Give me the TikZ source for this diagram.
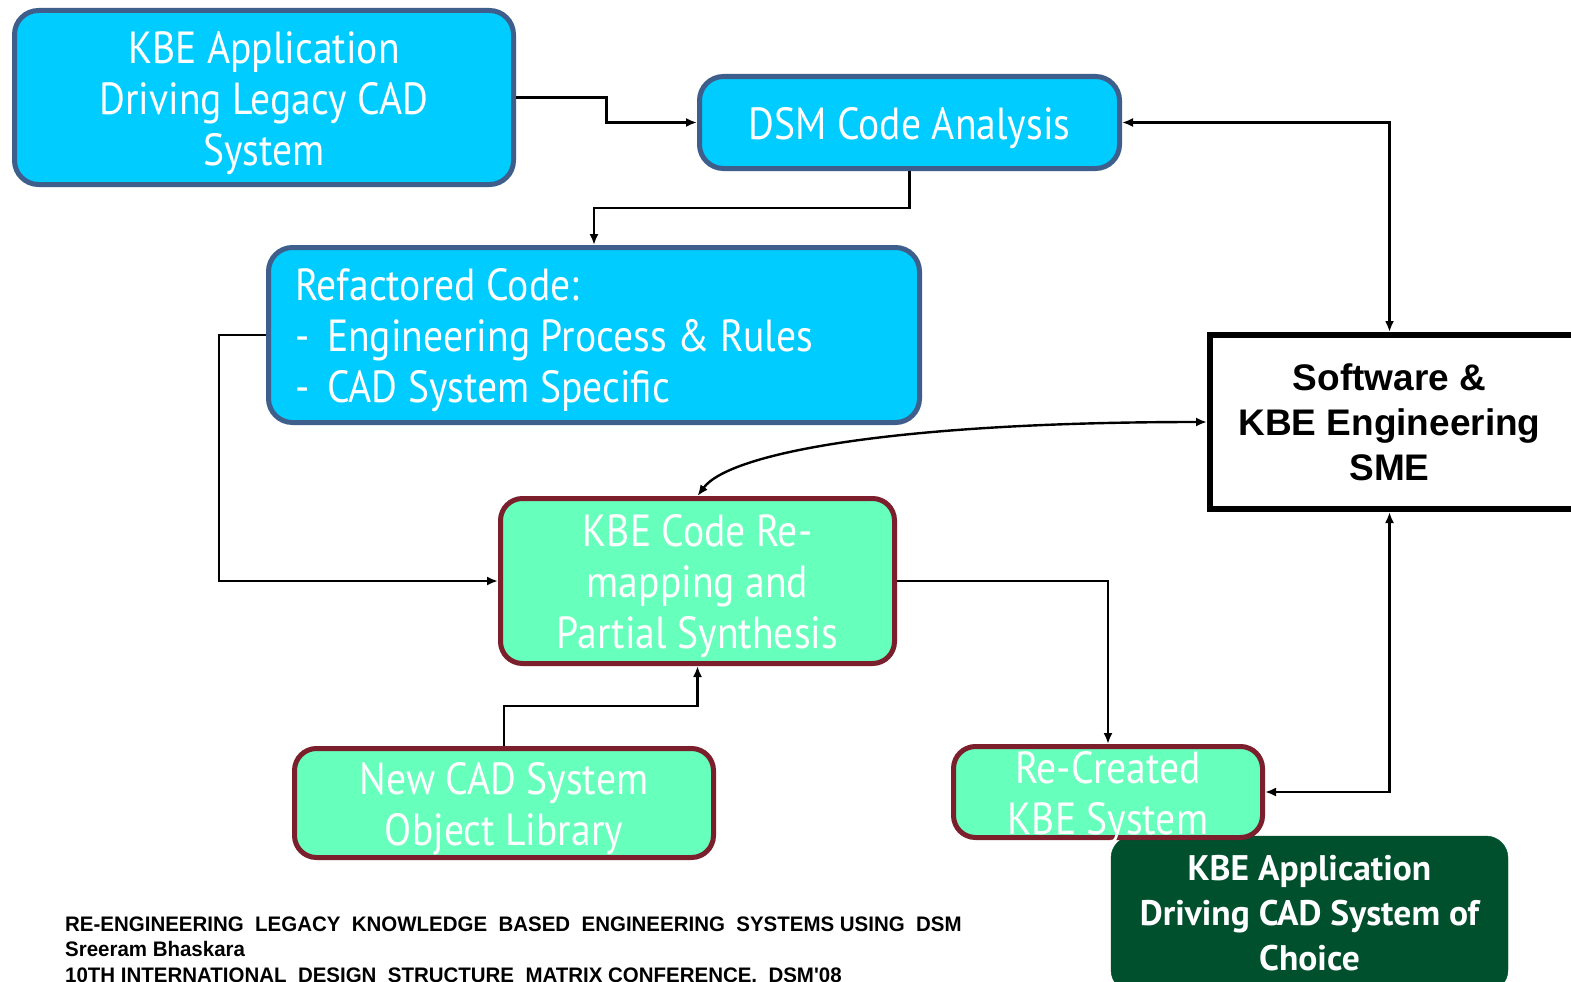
\documentclass[tikz,border=0pt]{standalone}
\usepackage{fontspec}
\setmainfont{PT Sans}
\newfontfamily\narrowfont[FakeStretch=0.88]{PT Sans}
\newfontfamily\arialfont{Liberation Sans}
\newfontfamily\arialnarrow[FakeStretch=0.975]{Liberation Sans}
\usetikzlibrary{arrows, arrows.meta}
\usetikzlibrary{calc}

\definecolor{boxcyan}{HTML}{00CCFF}
\definecolor{cyanedge}{HTML}{3E5F8C}
\definecolor{boxmint}{HTML}{66FFBB}
\definecolor{mintedge}{HTML}{7A1F2B}
\definecolor{boxdark}{HTML}{00502E}

\tikzset{
  cyanbox/.style={draw=cyanedge, fill=boxcyan, line width=5pt, rounded corners=24pt, inner sep=0pt,
    text=white, align=flush center, font=\narrowfont\fontsize{45}{51}\selectfont,
    execute at begin node={\rule{0pt}{43pt}}},
  mintbox/.style={draw=mintedge, fill=boxmint, line width=5pt, rounded corners=22pt, inner sep=0pt,
    text=white, align=flush center, font=\narrowfont\fontsize{45}{51}\selectfont,
    execute at begin node={\rule{0pt}{43pt}}},
  darkbox/.style={draw=boxdark, fill=boxdark, rounded corners=22pt, inner sep=0pt},
  smebox/.style={draw=black, fill=white, line width=6pt, inner sep=0pt},
  link/.style={draw=black, line width=2.4pt, >={Latex[length=11pt,width=9pt]}}
}

\begin{document}
\begin{tikzpicture}[x=1pt, y=-1pt]
  \useasboundingbox[fill=white] (0,0) rectangle (1571,982);

  \node[cyanbox, minimum width=499pt, minimum height=174pt, text width=480pt] (legacy) at (264,97.5) {KBE Application\\Driving Legacy CAD\\System};
  \node[cyanbox, minimum width=420pt, minimum height=92pt, text width=400pt,
    execute at begin node={\rule{0pt}{40pt}}] (dsm) at (909.5,122.5) {DSM Code Analysis};
  \node[cyanbox, minimum width=651pt, minimum height=175pt, align=flush left, text width=598pt] (refac) at (594,335)
    {Refactored Code:\\\makebox[32pt][l]{-}Engineering Process \& Rules\\\makebox[32pt][l]{-}CAD System Specific};
  \node[mintbox, minimum width=394pt, minimum height=165pt, text width=380pt] (kbecode) at (697.5,581) {KBE Code Re-\\mapping and\\Partial Synthesis};
  \node[mintbox, minimum width=419pt, minimum height=109pt, text width=400pt] (newcad) at (504,803) {New CAD System\\Object Library};

  \node[darkbox, minimum width=397pt, minimum height=156pt] (choice) at (1309.5,914) {};
  \node[text=white, align=center, font=\rmfamily\bfseries\fontsize{35.5}{45}\selectfont] (choicetxt) at (1309.5,913)
    {KBE Application\\Driving CAD System of\\Choice};
  \node[mintbox, minimum width=309pt, minimum height=91pt] (recreated) at (1108,792) {};
  \node[text=white, align=center, inner sep=0pt, font=\narrowfont\fontsize{45}{51}\selectfont] (recreatedtxt) at (1108,798)
    {Re-Created\\KBE System};

  \node[smebox, minimum width=380pt, minimum height=174pt] (sme) at (1400,422) {};
  \node[align=center, font=\arialfont\bfseries\fontsize{37}{45}\selectfont] (smetxt) at (1389.5,422)
    {Software \&\\KBE Engineering\\SME};

  \node[anchor=base west, align=left, inner sep=0pt, font=\arialnarrow\bfseries\fontsize{21}{25.3}\selectfont] (footer) at (65,982)
    {RE-ENGINEERING\ \ LEGACY\ \ KNOWLEDGE\ \ BASED\ \ ENGINEERING\ \ SYSTEMS USING\ \ DSM\\
     Sreeram Bhaskara\\
     10TH INTERNATIONAL\ \ DESIGN\ \ STRUCTURE\ \ MATRIX CONFERENCE,\ \ DSM'08};

  \draw[link, ->] (legacy.east) -| ($(legacy.east)!.5!(dsm.west)$) |- (dsm.west);
  \draw[link, ->] (dsm.south) |- ($(dsm.south)!.5!(refac.north)$) -| (refac.north);
  \draw[link, <->] (dsm.east) -| (smetxt.center |- sme.north);
  \draw[link, ->] (refac.west) -- ++(-47,0) |- (kbecode.west);
  \draw[link, <->] (sme.west) .. controls (900,422) and (730,452) .. (kbecode.north);
  \draw[link, ->] (kbecode.east) -| (recreated.north);
  \draw[link, ->] (newcad.north) |- ($(newcad.north)!.5!(kbecode.south)$) -| (kbecode.south);
  \draw[link, <->] (smetxt.center |- sme.south) |- (recreated.east);
\end{tikzpicture}
\end{document}
